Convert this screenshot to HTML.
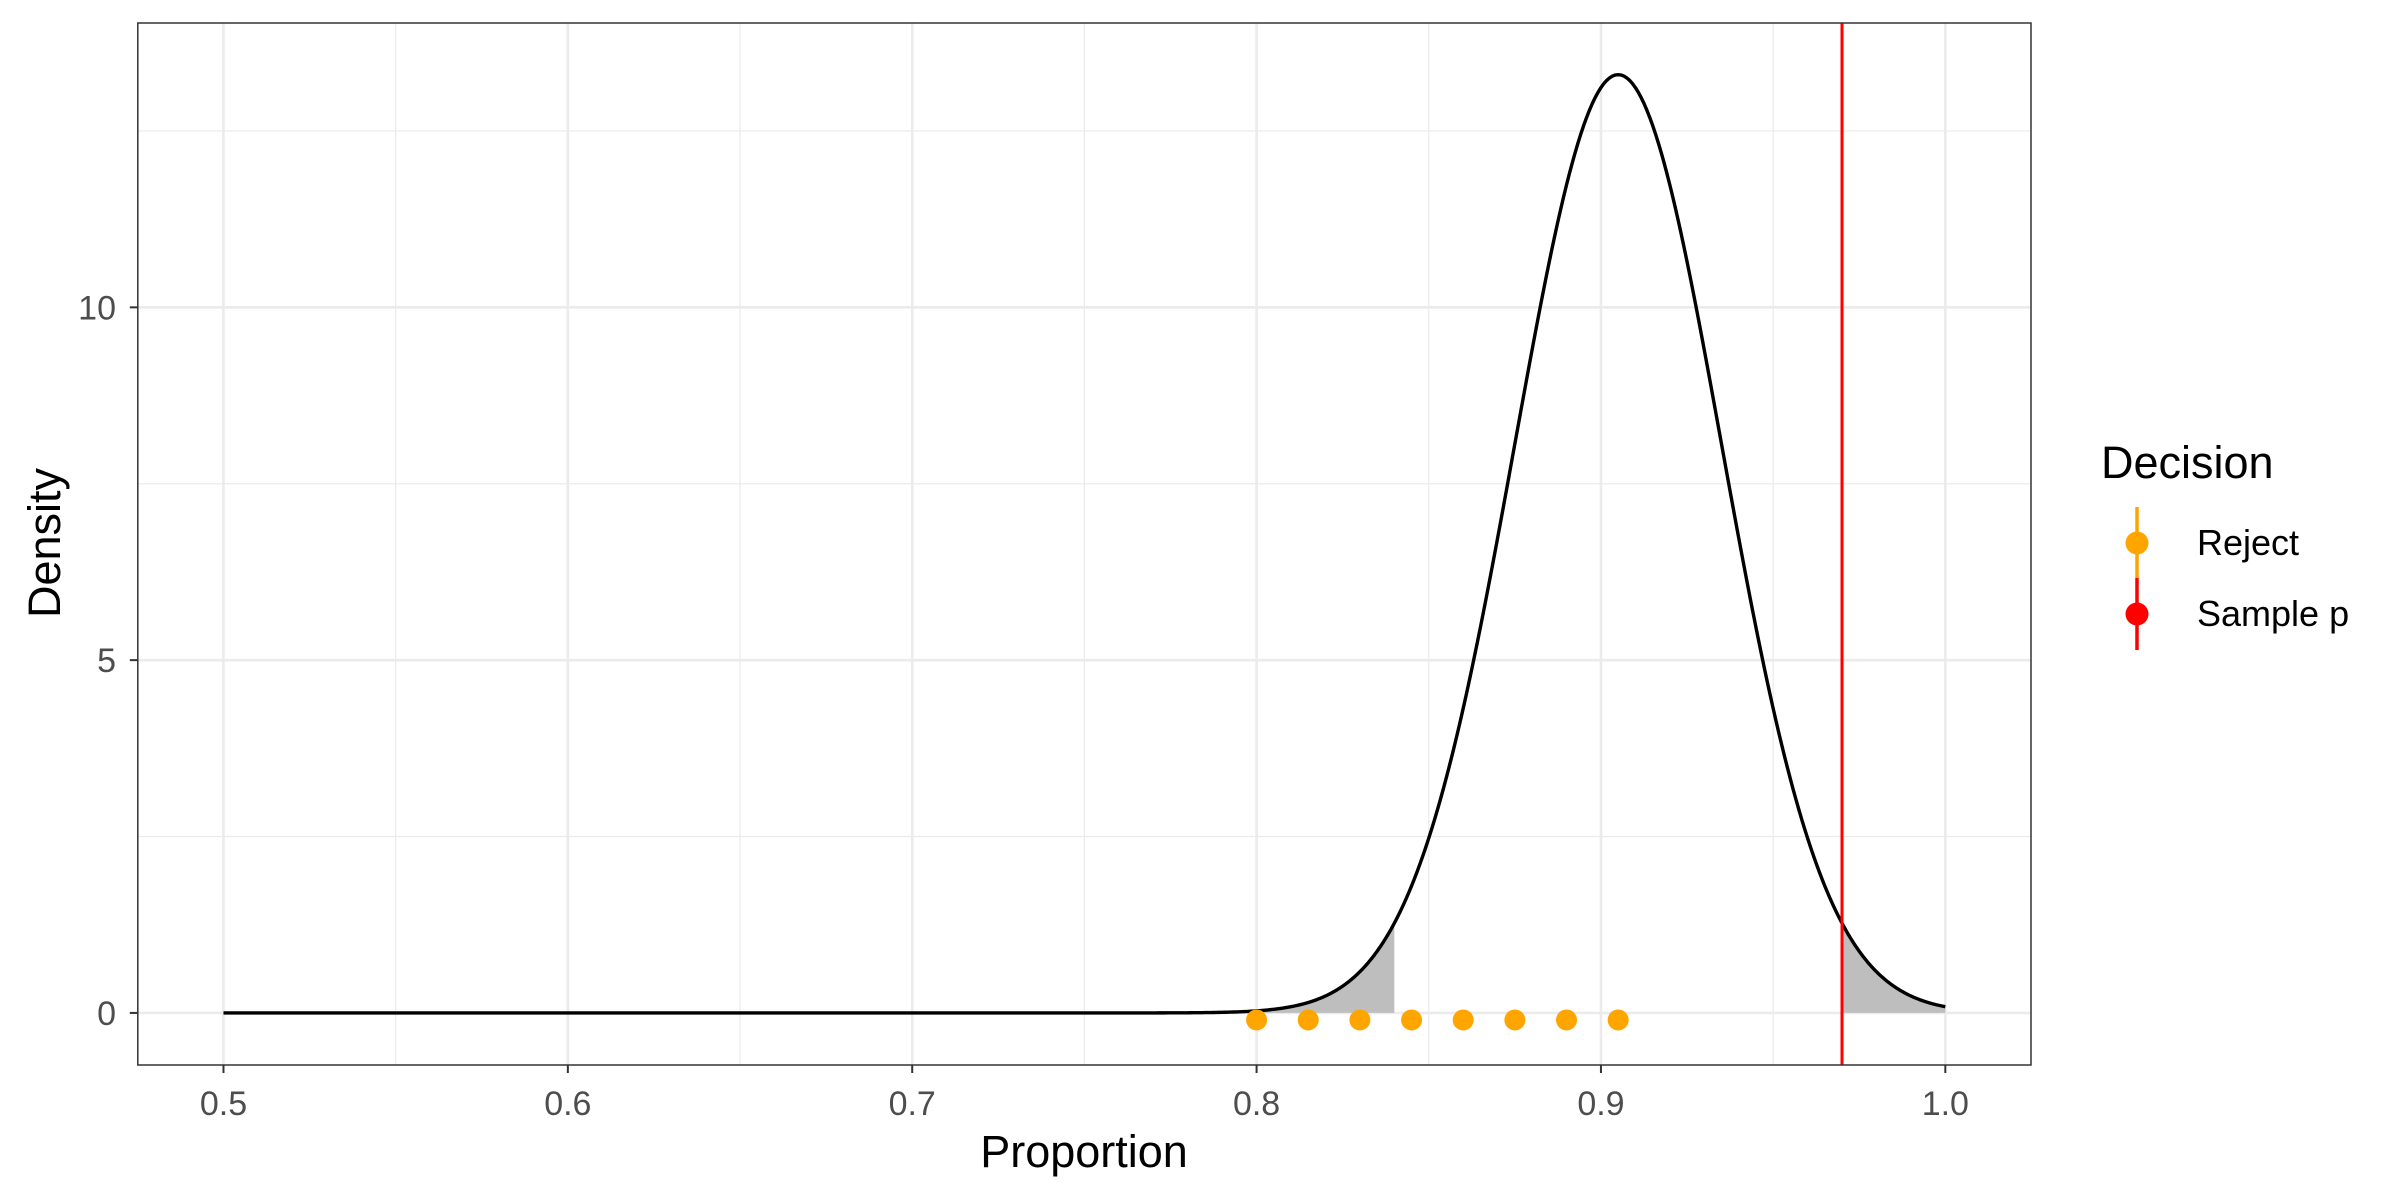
<!DOCTYPE html>
<html><head><meta charset="utf-8"><style>
html,body{margin:0;padding:0;background:#fff;}
svg{display:block;font-family:"Liberation Sans",Arial,sans-serif;}
</style></head><body>
<svg id="chart" width="2400" height="1200" viewBox="0 0 2400 1200">
<rect x="0" y="0" width="2400" height="1200" fill="#fff"/>
<g id="grid"></g>
<g id="shade"></g>
<g id="curve"></g>
<g id="marks"></g>
<rect x="137.8" y="23" width="1893.2" height="1042" fill="none" stroke="#333" stroke-width="1.5"/>
<g id="axes"></g>
<text x="1084" y="1167" text-anchor="middle" font-size="45" fill="#000">Proportion</text>
<text x="0" y="0" transform="translate(60,543) rotate(-90)" text-anchor="middle" font-size="45" fill="#000">Density</text>
<g>
<text x="2101" y="478" font-size="45" fill="#000">Decision</text>
<line x1="2137" y1="507" x2="2137" y2="578" stroke="#FFA500" stroke-width="3.5"/>
<line x1="2137" y1="578" x2="2137" y2="650" stroke="#FF0000" stroke-width="3.5"/>
<circle cx="2137" cy="543" r="11.5" fill="#FFA500"/>
<circle cx="2137" cy="614" r="11.5" fill="#FF0000"/>
<text x="2197" y="555" font-size="36" fill="#000">Reject</text>
<text x="2197" y="626" font-size="36" fill="#000">Sample p</text>
</g>
</svg>
<script>
const xTicks = [0.5, 0.6, 0.7, 0.8, 0.9, 1.0];
const xTickLabels = ["0.5", "0.6", "0.7", "0.8", "0.9", "1.0"];
const xMinor = [0.55, 0.65, 0.75, 0.85, 0.95];
const yTicks = [0, 5, 10];
const yTickLabels = ["0", "5", "10"];
const yMinor = [2.5, 7.5, 12.5];
const distMean = [0.905];
const distSd = [0.03];
const curveRange = [0.5, 1.0];
const leftCut = [0.84];
const sampleP = [0.97];
const rejectPoints = [0.80, 0.815, 0.83, 0.845, 0.86, 0.875, 0.89, 0.905];
const rejectY = [-0.1];

const NS = "http://www.w3.org/2000/svg";
const L = 137.8, R = 2031, T = 23, B = 1065;
const xMin = 0.47512, xMax = 1.02488, yMin = -0.738, yMax = 14.03;
function sx(v){ return L + (v - xMin) / (xMax - xMin) * (R - L); }
function sy(v){ return B - (v - yMin) / (yMax - yMin) * (B - T); }
function dens(x){ const z = (x - distMean[0]) / distSd[0]; return Math.exp(-0.5*z*z) / (distSd[0]*Math.sqrt(2*Math.PI)); }
function mk(tag, attrs, parent){ const e = document.createElementNS(NS, tag); for (const k in attrs) e.setAttribute(k, attrs[k]); parent.appendChild(e); return e; }

const grid = document.getElementById('grid');
xMinor.forEach(v => {
  const e = mk('line', {x1: sx(v), x2: sx(v), y1: T, y2: B, stroke: '#ebebeb', 'stroke-width': 1.2}, grid);
  
  
});
yMinor.forEach(v => {
  const e = mk('line', {x1: L, x2: R, y1: sy(v), y2: sy(v), stroke: '#ebebeb', 'stroke-width': 1.2}, grid);
  
  
});
xTicks.forEach(v => {
  const e = mk('line', {x1: sx(v), x2: sx(v), y1: T, y2: B, stroke: '#ebebeb', 'stroke-width': 2.6}, grid);
  
  
});
yTicks.forEach(v => {
  const e = mk('line', {x1: L, x2: R, y1: sy(v), y2: sy(v), stroke: '#ebebeb', 'stroke-width': 2.6}, grid);
  
  
});

function areaPath(a, b){
  let d = 'M' + sx(a) + ',' + sy(0);
  const n = 200;
  for (let i = 0; i <= n; i++){ const x = a + (b - a) * i / n; d += ' L' + sx(x).toFixed(2) + ',' + sy(dens(x)).toFixed(2); }
  d += ' L' + sx(b) + ',' + sy(0) + ' Z';
  return d;
}
const shade = document.getElementById('shade');
const s1 = mk('path', {d: areaPath(curveRange[0], leftCut[0]), fill: '#bebebe'}, shade);


const s2 = mk('path', {d: areaPath(sampleP[0], curveRange[1]), fill: '#bebebe'}, shade);



const cg = document.getElementById('curve');
let d = '';
const N = 600;
for (let i = 0; i <= N; i++){ const x = curveRange[0] + (curveRange[1] - curveRange[0]) * i / N; d += (i ? ' L' : 'M') + sx(x).toFixed(2) + ',' + sy(dens(x)).toFixed(2); }
const cp = mk('path', {d: d, fill: 'none', stroke: '#000', 'stroke-width': 3.4, 'stroke-linejoin': 'round'}, cg);



const marks = document.getElementById('marks');
const rl = mk('line', {x1: sx(sampleP[0]), x2: sx(sampleP[0]), y1: T, y2: B, stroke: '#FF0000', 'stroke-width': 3}, marks);


rejectPoints.forEach(v => {
  const c = mk('circle', {cx: sx(v), cy: sy(rejectY[0]), r: 10.5, fill: '#FFA500'}, marks);
  
  
});

const axes = document.getElementById('axes');
xTicks.forEach((v, i) => {
  const t = mk('line', {x1: sx(v), x2: sx(v), y1: B, y2: B + 8, stroke: '#333', 'stroke-width': 2}, axes);
  
  
  const lb = mk('text', {x: sx(v), y: 1115, 'text-anchor': 'middle', 'font-size': 34, fill: '#4d4d4d'}, axes);
  lb.textContent = xTickLabels[i];
  
  
});
yTicks.forEach((v, i) => {
  const t = mk('line', {x1: L - 8, x2: L, y1: sy(v), y2: sy(v), stroke: '#333', 'stroke-width': 2}, axes);
  
  
  const lb = mk('text', {x: 116, y: sy(v) + 12, 'text-anchor': 'end', 'font-size': 34, fill: '#4d4d4d'}, axes);
  lb.textContent = yTickLabels[i];
  
  
});
</script>
</body></html>
